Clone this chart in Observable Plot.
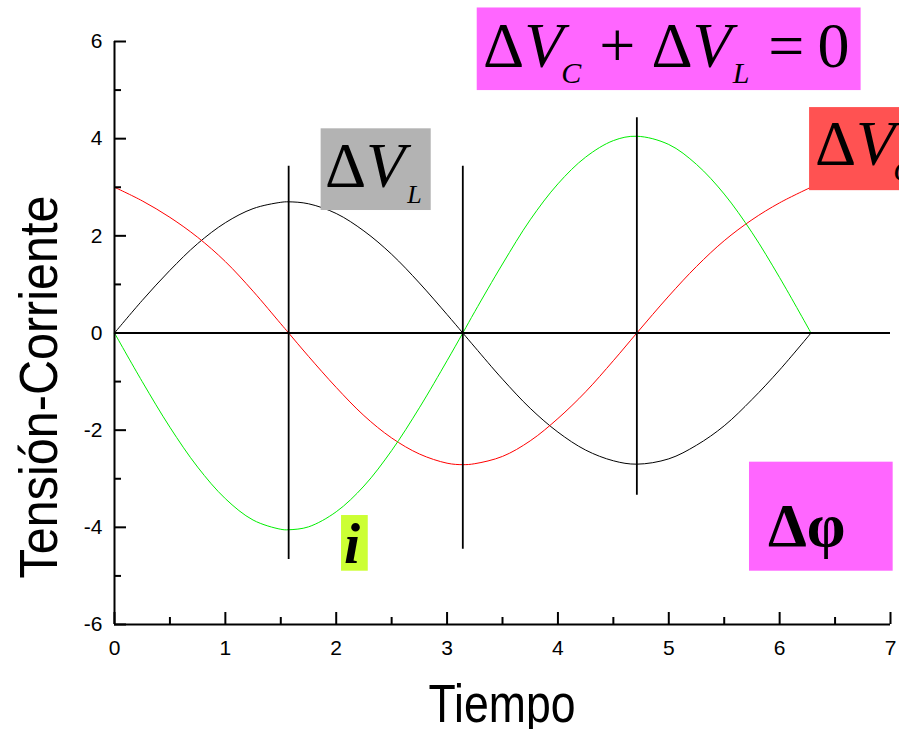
<!DOCTYPE html>
<html>
<head>
<meta charset="utf-8">
<script src="https://cdn.jsdelivr.net/npm/d3@7"></script>
<script src="https://cdn.jsdelivr.net/npm/@observablehq/plot@0.6"></script>
<style>
  html, body { margin: 0; padding: 0; background: #fff; overflow: hidden; width: 899px; height: 729px; }
</style>
</head>
<body>
<div id="chart"></div>
<script>
// Tiempo (radianes) y las tres señales del circuito LC
const tiempo = [0, 0.25, 0.5, 0.75, 1.0, 1.25, 1.5, 1.571, 1.75, 2.0, 2.25, 2.5, 2.75, 3.0, 3.142,
  3.25, 3.5, 3.75, 4.0, 4.25, 4.5, 4.712, 5.0, 5.25, 5.5, 5.75, 6.0, 6.283];
const tensionL = [0, 0.67, 1.29, 1.84, 2.27, 2.56, 2.69, 2.70, 2.66, 2.46, 2.10, 1.62, 1.03, 0.38, 0,
  -0.29, -0.95, -1.55, -2.04, -2.41, -2.63, -2.70, -2.59, -2.31, -1.91, -1.37, -0.76, 0];
const tensionC = [3.00, 2.72, 2.38, 1.97, 1.47, 0.86, 0.19, 0, -0.48, -1.12, -1.70, -2.16, -2.49, -2.68, -2.71,
  -2.69, -2.54, -2.22, -1.76, -1.21, -0.57, 0, 0.76, 1.37, 1.90, 2.33, 2.68, 3.00];
const corriente = [0, -1.00, -1.94, -2.76, -3.41, -3.85, -4.04, -4.05, -3.99, -3.68, -3.15, -2.42, -1.54, -0.57, 0,
  0.44, 1.42, 2.33, 3.07, 3.62, 3.96, 4.05, 3.88, 3.47, 2.86, 2.07, 1.14, 0];

const series = [
  {nombre: "ΔV_L", color: "#000000", valores: tensionL},
  {nombre: "ΔV_C", color: "#ff0000", valores: tensionC},
  {nombre: "i", color: "#00ee00", valores: corriente}
];

// Marcas verticales en π/2, π y 3π/2
const marcasT = [1.571, 3.142, 4.712];
const marcasInf = [-4.66, -4.45, -3.34];
const marcasSup = [3.43, 3.43, 4.43];

// Ticks
const yTicks = [-6, -4, -2, 0, 2, 4, 6];
const yMenores = [-5, -3, -1, 1, 3, 5];
const xTicks = [0, 1, 2, 3, 4, 5, 6, 7];
const xMenores = [0.5, 1.5, 2.5, 3.5, 4.5, 5.5, 6.5];

// Cuadros de anotación (coordenadas de datos)
const cajas = [
  {x1: 3.272, x2: 6.735, y1: 4.99, y2: 6.69, fondo: "#ff66ff"},
  {x1: 1.864, x2: 2.857, y1: 2.521, y2: 4.203, fondo: "#b3b3b3"},
  {x1: 6.27, x2: 7.5, y1: 2.93, y2: 4.64, fondo: "#ff5252"},
  {x1: 2.048, x2: 2.289, y1: -4.903, y2: -3.757, fondo: "#ccff33"},
  {x1: 5.728, x2: 7.024, y1: -4.903, y2: -2.659, fondo: "#ff66ff"}
];

// Textos de las anotaciones: posición de inicio y línea base en coordenadas de datos
const textos = [
  {x: 3.329, y: 5.465, partes: [
    {t: "Δ"}, {t: "V", it: true}, {t: "C", it: true, sub: 16, size: 30, dx: -2},
    {t: "+", sub: -16, dx: 18}, {t: "Δ", dx: 16}, {t: "V", it: true},
    {t: "L", it: true, sub: 16, size: 30, dx: 1}, {t: "=", sub: -16, dx: 19}, {t: "0", dx: 13}]},
  {x: 1.903, y: 3.001, partes: [
    {t: "Δ"}, {t: "V", it: true}, {t: "L", it: true, sub: 16, size: 26, dx: 2}]},
  {x: 6.323, y: 3.448, partes: [
    {t: "Δ"}, {t: "V", it: true}, {t: "C", it: true, sub: 16, size: 30, dx: -2}]},
  {x: 2.075, y: -4.738, partes: [{t: "i", it: true, bold: true, size: 58}]},
  {x: 5.899, y: -4.395, partes: [{t: "Δφ", bold: true, size: 62}]}
];

const filas = series.flatMap(s => tiempo.map((t, i) => ({t, v: s.valores[i], serie: s.nombre, color: s.color})));
const marcas = marcasT.map((t, i) => ({t, y1: marcasInf[i], y2: marcasSup[i]}));

const fmt = d => String(d);
const plot = Plot.plot({
  width: 899,
  height: 729,
  marginLeft: 114,
  marginRight: 9,
  marginTop: 41,
  marginBottom: 105,
  x: {domain: [0, 7], label: null},
  y: {domain: [-6, 6], label: null},
  style: {background: "white", fontFamily: "'Liberation Sans', Arial, sans-serif", overflow: "visible"},
  marks: [
    Plot.line(filas, {x: "t", y: "v", z: "serie", stroke: "color", strokeWidth: 1, curve: "catmull-rom"}),
    Plot.ruleY([0], {strokeWidth: 2}),
    Plot.ruleX(marcas, {x: "t", y1: "y1", y2: "y2", strokeWidth: 1.8}),
    Plot.rect(cajas, {x1: "x1", x2: "x2", y1: "y1", y2: "y2", fill: "fondo"}),
    Plot.ruleX([0], {strokeWidth: 2}),
    Plot.ruleY([-6], {strokeWidth: 2}),
    Plot.axisY(yTicks, {tickSize: -12, tickPadding: 24, strokeWidth: 2, fontSize: 21, tickFormat: fmt, label: null}),
    Plot.axisY(yMenores, {tickSize: -7, strokeWidth: 2, tickFormat: () => "", label: null}),
    Plot.axisX(xTicks, {tickSize: -12, tickPadding: 28, strokeWidth: 2, fontSize: 21, tickFormat: fmt, label: null}),
    Plot.axisX(xMenores, {tickSize: -7, strokeWidth: 2, tickFormat: () => "", label: null})
  ]
});

document.getElementById("chart").appendChild(plot);

const sx = plot.scale("x"), sy = plot.scale("y");
const svg = d3.select(plot);

// Anotaciones con subíndices
const g = svg.append("g")
  .attr("font-family", "'Liberation Serif', 'Times New Roman', serif")
  .attr("text-anchor", "start")
  .attr("fill", "black");
for (const d of textos) {
  const txt = g.append("text").attr("x", sx.apply(d.x)).attr("y", sy.apply(d.y)).attr("font-size", 64);
  for (const p of d.partes) {
    const ts = txt.append("tspan").text(p.t);
    if (p.it) ts.attr("font-style", "italic");
    if (p.bold) ts.attr("font-weight", "bold");
    if (p.size) ts.attr("font-size", p.size);
    if (p.sub) ts.attr("dy", p.sub);
    if (p.dx) ts.attr("dx", p.dx);
  }
}

// Títulos de los ejes
const titulos = svg.append("g")
  .attr("font-family", "'Liberation Sans', Arial, sans-serif")
  .attr("font-size", 54)
  .attr("text-anchor", "middle")
  .attr("fill", "black");
titulos.append("text")
  .attr("x", (sx.apply(0) + sx.apply(7)) / 2).attr("y", 722)
  .attr("textLength", 147).attr("lengthAdjust", "spacingAndGlyphs")
  .text("Tiempo");
titulos.append("text")
  .attr("transform", "translate(57,387) rotate(-90)")
  .attr("textLength", 383).attr("lengthAdjust", "spacingAndGlyphs")
  .text("Tensión-Corriente");
</script>
</body>
</html>
